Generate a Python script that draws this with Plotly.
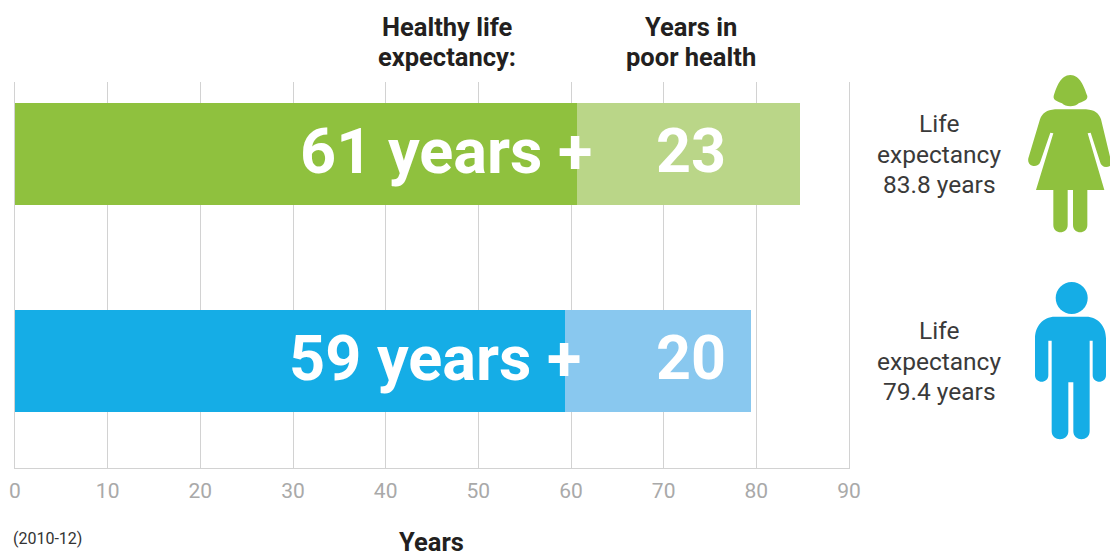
import plotly.graph_objects as go

# Data
groups = ["Women", "Men"]
healthy_years = [60.6, 59.3]
poor_health_years = [24.1, 20.1]
healthy_labels = ["61 years +", "59 years +"]
poor_labels = ["23", "20"]
life_lines = [["Life", "expectancy", "83.8 years"], ["Life", "expectancy", "79.4 years"]]
x_ticks = [0, 10, 20, 30, 40, 50, 60, 70, 80, 90]

# Style
W, H = 1110, 552
L, R, T, B = 15, 849, 82, 468
GREEN, LGREEN, BLUE, LBLUE = "#8fc13e", "#bad688", "#15ade6", "#89c8ef"
healthy_colors = [GREEN, BLUE]
poor_colors = [LGREEN, LBLUE]
FONT = "Roboto"
DARK = "#231f20"


def px(x):
    return (x - L) / (R - L)


def py(y):
    return (B - y) / (B - T)


def icon_path(segs):
    """Pixel-space icon outline -> paper-space SVG path."""
    out = []
    for s in segs:
        cmd, pts = s[0], s[1:]
        out.append(cmd + " ".join(f"{px(a):.5f},{py(b):.5f}" for a, b in pts))
    return " ".join(out) + " Z"


def zx(v):
    return 1000 + v / 3


def zy(v, off):
    return off + v / 3


def z(off, cmd, *pts):
    return (cmd, *[(zx(a), zy(b, off)) for a, b in pts])


woman_head = [
    z(60, "M", (211, 45)),
    z(60, "C", (240, 45), (252, 80), (262, 108)),
    z(60, "C", (264, 122), (245, 125), (236, 130)),
    z(60, "C", (226, 142), (196, 142), (186, 130)),
    z(60, "C", (177, 125), (158, 122), (161, 108)),
    z(60, "C", (170, 80), (182, 45), (211, 45)),
]
woman_body = [
    z(60, "M", (165, 148)),
    z(60, "L", (258, 148)),
    z(60, "C", (285, 150), (296, 160), (303, 178)),
    z(60, "L", (330, 290)),
    z(60, "L", (330, 318)),
    z(60, "C", (315, 325), (303, 318), (300, 305)),
    z(60, "L", (272, 218)),
    z(60, "L", (263, 220)),
    z(60, "L", (313, 390)),
    z(60, "L", (262, 390)),
    z(60, "L", (262, 495)),
    z(60, "C", (262, 524), (219, 524), (219, 495)),
    z(60, "L", (219, 390)),
    z(60, "L", (203, 390)),
    z(60, "L", (203, 495)),
    z(60, "C", (203, 524), (160, 524), (160, 495)),
    z(60, "L", (160, 390)),
    z(60, "L", (108, 390)),
    z(60, "L", (160, 220)),
    z(60, "L", (151, 218)),
    z(60, "L", (121, 305)),
    z(60, "C", (115, 325), (80, 322), (85, 295)),
    z(60, "L", (120, 178)),
    z(60, "C", (127, 160), (140, 150), (165, 148)),
]
man_body = [
    z(270, "M", (165, 140)),
    z(270, "L", (258, 140)),
    z(270, "C", (295, 140), (318, 170), (318, 205)),
    z(270, "L", (318, 316)),
    z(270, "C", (318, 342), (278, 342), (278, 316)),
    z(270, "L", (278, 212)),
    z(270, "L", (269, 212)),
    z(270, "L", (269, 484)),
    z(270, "C", (269, 516), (220, 516), (220, 484)),
    z(270, "L", (220, 337)),
    z(270, "L", (205, 337)),
    z(270, "L", (205, 484)),
    z(270, "C", (205, 516), (155, 516), (155, 484)),
    z(270, "L", (155, 212)),
    z(270, "L", (145, 212)),
    z(270, "L", (145, 316)),
    z(270, "C", (145, 342), (105, 342), (105, 316)),
    z(270, "L", (105, 205)),
    z(270, "C", (105, 170), (128, 140), (165, 140)),
]

shapes = [
    dict(type="path", xref="paper", yref="paper", path=icon_path(p),
         fillcolor=c, line=dict(width=0), layer="above")
    for p, c in [(woman_head, GREEN), (woman_body, GREEN), (man_body, BLUE)]
]
shapes.append(dict(type="circle", xref="paper", yref="paper",
                   x0=px(1055.7), x1=px(1087.7), y0=py(314), y1=py(282),
                   fillcolor=BLUE, line=dict(width=0), layer="above"))

fig = go.Figure()
fig.add_bar(y=groups, x=healthy_years, orientation="h", width=0.493,
            marker=dict(color=healthy_colors, line=dict(width=0)), hoverinfo="skip")
fig.add_bar(y=groups, x=poor_health_years, orientation="h", width=0.493,
            marker=dict(color=poor_colors, line=dict(width=0)), hoverinfo="skip")


def note(text, x, y, size, color=DARK, bold=False):
    return dict(text=f"<b>{text}</b>" if bold else text, xref="paper", yref="paper",
                x=px(x), y=py(y), xanchor="center", yanchor="middle", showarrow=False,
                align="center", font=dict(family=FONT, size=size, color=color))


annotations = [
    note("Healthy life", 447, 27, 25.5, bold=True),
    note("expectancy:", 447, 57, 25.5, bold=True),
    note("Years in", 691, 27, 25.5, bold=True),
    note("poor health", 691, 57, 25.5, bold=True),
    note("(2010-12)", 47, 538, 16, color="#333333"),
    note("<b>Years</b>", 431, 542, 25.5),
]
for g, hl, pl, lines, yc, right in zip(groups, healthy_labels, poor_labels, life_lines,
                                       [154, 361], [594, 583]):
    annotations.append(dict(text=f"<b>{hl}</b>", x=(right - L) / (R - L) * 90, y=g, xref="x", yref="y",
                            xanchor="right", yanchor="middle", showarrow=False, yshift=3,
                            font=dict(family=FONT, size=63, color="white")))
    annotations.append(dict(text=f"<b>{pl}</b>", x=72.9, y=g, xref="x", yref="y", xanchor="center",
                            yanchor="middle", showarrow=False, yshift=3,
                            font=dict(family=FONT, size=61, color="white")))
    for i, line in enumerate(lines):
        annotations.append(note(line, 939, yc - 30.5 + 30.5 * i, 24.5, color="#3a3a3a"))

fig.update_layout(
    width=W, height=H, barmode="stack", showlegend=False, bargap=0,
    margin=dict(l=L, r=W - R, t=T, b=H - B, pad=0, autoexpand=False),
    paper_bgcolor="white", plot_bgcolor="white",
    shapes=shapes, annotations=annotations,
    xaxis=dict(range=[0, 90], tickvals=x_ticks, showgrid=True, gridcolor="#d2d2d2", gridwidth=1,
               zeroline=False, showline=True, linecolor="#d2d2d2", linewidth=1,
               ticks="outside", ticklen=4, tickcolor="rgba(0,0,0,0)", automargin=False,
               tickfont=dict(family=FONT, size=21, color="#a9a9a9")),
    yaxis=dict(categoryorder="array", categoryarray=groups[::-1], range=[-0.517, 1.348], automargin=False,
               showticklabels=False, showgrid=False, zeroline=False, showline=True, linecolor="#d2d2d2",
               linewidth=1, mirror=True, layer="below traces", ticks=""),
)
fig.write_html("out.html", config=dict(displayModeBar=False),
               post_script="document.body.style.margin='0';")
